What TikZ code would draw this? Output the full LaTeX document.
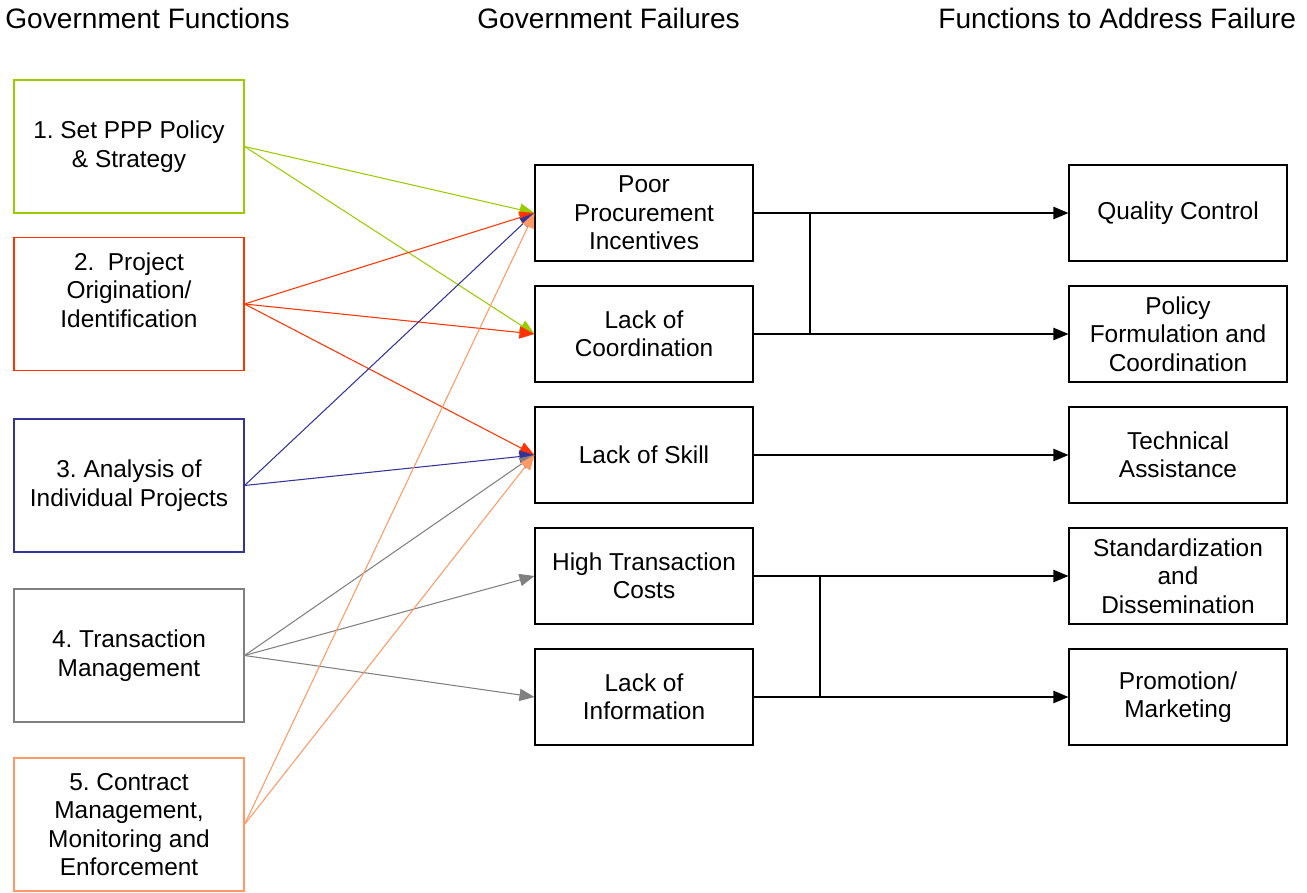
\documentclass[tikz,border=0pt]{standalone}
\usepackage{fontspec}
\setmainfont{Liberation Sans}
\usetikzlibrary{arrows.meta,positioning,calc}
\definecolor{setgreen}{HTML}{99CC00}
\definecolor{origred}{HTML}{FF3300}
\definecolor{anablue}{HTML}{333399}
\definecolor{trgray}{HTML}{808080}
\definecolor{conorange}{HTML}{FF9966}
\newcommand{\boxfont}{\fontsize{13.9}{16.2}\selectfont}
\newcommand{\headfont}{\fontsize{16}{18}\selectfont}
\frenchspacing

\begin{document}
\begin{tikzpicture}[x=0.02cm,y=-0.02cm,
    govbox/.style={draw,line width=0.6pt,align=center,minimum width=4.6cm,minimum height=2.66cm,inner sep=0pt,font=\boxfont},
    failbox/.style={draw=black,line width=0.7pt,align=center,minimum width=4.36cm,minimum height=1.92cm,inner sep=0pt,font=\boxfont},
    head/.style={anchor=base west,inner sep=0pt,font=\headfont},
    colarrow/.style={line width=0.6pt,-{Triangle[length=8.5pt,width=7pt]}},
    blkarrow/.style={line width=0.8pt,-{Triangle[length=8.5pt,width=7pt]}}]
    \useasboundingbox (0,0) rectangle (1307,892);

    % Headings
    \node[head] (hfunc) at (5,29) {Government Functions};
    \node[head] (hfail) at (477,29) {Government Failures};
    \node[head] (hfix) at (938,29) {Functions to Address Failure};

    % Government functions
    \node[govbox,draw=setgreen] (setpol) at (129,146.5) {1. Set PPP Policy\\\& Strategy};
    \node[govbox,draw=origred] (origin) at (129,304) {2.\ \ Project\\Origination/\\Identification\\\mbox{}};
    \node[govbox,draw=anablue] (analysis) at (129,485.5) {3. Analysis of\\Individual Projects};
    \node[govbox,draw=trgray] (transmgmt) at (129,655.5) {4. Transaction\\Management};
    \node[govbox,draw=conorange] (contract) at (129,824.5) {5. Contract\\Management,\\Monitoring and\\Enforcement};

    % Government failures
    \node[failbox] (poor) at (644,213) {Poor\\Procurement\\Incentives};
    \node[failbox] (coord) at (644,334) {Lack of\\Coordination};
    \node[failbox] (skill) at (644,455) {Lack of Skill};
    \node[failbox] (trans) at (644,576) {High Transaction\\Costs};
    \node[failbox] (info) at (644,697) {Lack of\\Information};

    % Functions to address failure
    \node[failbox] (quality) at (1178,213) {Quality Control};
    \node[failbox] (policy) at (1178,334) {Policy\\Formulation and\\Coordination};
    \node[failbox] (techass) at (1178,455) {Technical\\Assistance};
    \node[failbox] (standard) at (1178,576) {Standardization\\and\\Dissemination};
    \node[failbox] (promo) at (1178,697) {Promotion/\\Marketing};

    % Functions -> failures
    \draw[colarrow,setgreen] (setpol.east) -- (poor.west);
    \draw[colarrow,setgreen] (setpol.east) -- (coord.west);
    \draw[colarrow,origred] (origin.east) -- (poor.west);
    \draw[colarrow,origred] (origin.east) -- (coord.west);
    \draw[colarrow,origred] (origin.east) -- (skill.west);
    \draw[colarrow,anablue] (analysis.east) -- (poor.west);
    \draw[colarrow,anablue] (analysis.east) -- (skill.west);
    \draw[colarrow,trgray] (transmgmt.east) -- (skill.west);
    \draw[colarrow,trgray] (transmgmt.east) -- (trans.west);
    \draw[colarrow,trgray] (transmgmt.east) -- (info.west);
    \draw[colarrow,conorange] (contract.east) -- (poor.west);
    \draw[colarrow,conorange] (contract.east) -- (skill.west);

    % Failures -> remedies
    \coordinate (j1) at (810,0);
    \coordinate (j2) at (820,0);
    \draw[blkarrow] (poor.east) -- (quality.west);
    \draw[blkarrow] (coord.east) -- (policy.west);
    \draw[line width=0.8pt] (poor.east -| j1) -- (coord.east -| j1);
    \draw[blkarrow] (skill.east) -- (techass.west);
    \draw[blkarrow] (trans.east) -- (standard.west);
    \draw[blkarrow] (info.east) -- (promo.west);
    \draw[line width=0.8pt] (trans.east -| j2) -- (info.east -| j2);
\end{tikzpicture}
\end{document}
